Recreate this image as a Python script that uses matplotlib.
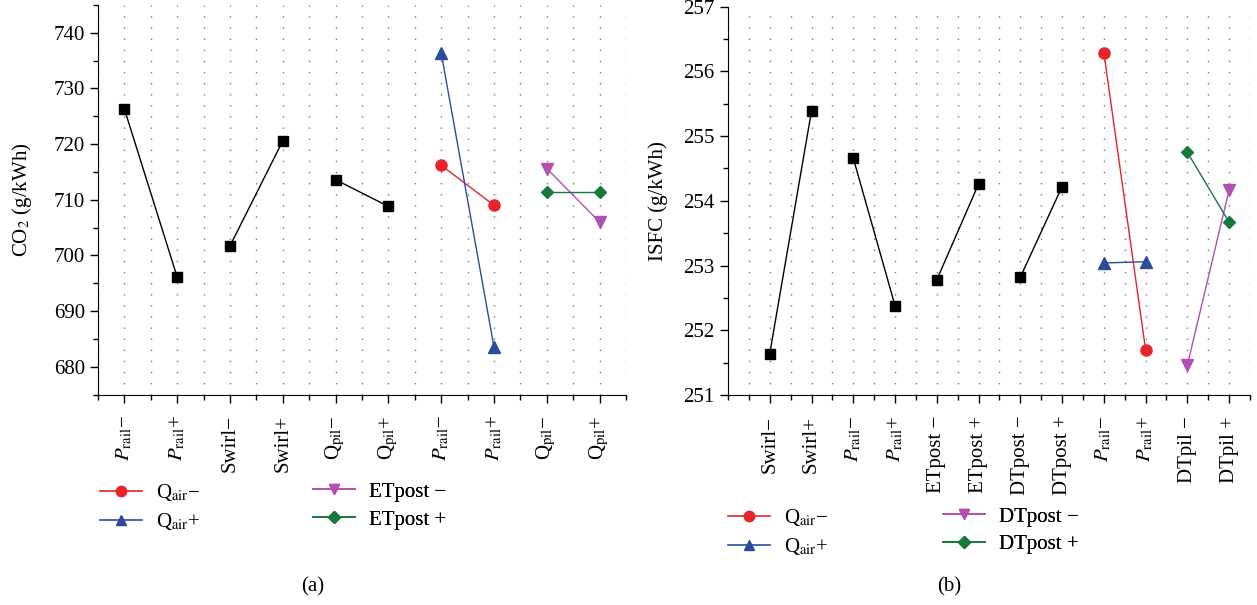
import matplotlib
matplotlib.use("Agg")
import matplotlib.pyplot as plt
from matplotlib.ticker import MultipleLocator, FixedLocator
from matplotlib.lines import Line2D

plt.rcParams['font.family'] = ['Liberation Serif', 'DejaVu Serif']
plt.rcParams['mathtext.fontset'] = 'stix'
plt.rcParams['font.size'] = 15

# ---------------- data: panel (a) CO2 ----------------
a_labels = [r"$P_{\mathrm{rail}}$−", r"$P_{\mathrm{rail}}$+", "Swirl−", "Swirl+",
            r"Q$_{\mathrm{pil}}$−", r"Q$_{\mathrm{pil}}$+", r"$P_{\mathrm{rail}}$−",
            r"$P_{\mathrm{rail}}$+", r"Q$_{\mathrm{pil}}$−", r"Q$_{\mathrm{pil}}$+"]
a_black_x = [[1, 2], [3, 4], [5, 6]]
a_black_y = [[726.3, 696.1], [701.7, 720.6], [713.6, 708.8]]
a_qair_minus = [716.2, 709.0]   # at x 7, 8
a_qair_plus = [736.4, 683.5]    # at x 7, 8
a_et_minus = [715.6, 706.0]     # at x 9, 10
a_et_plus = [711.4, 711.4]      # at x 9, 10

# ---------------- data: panel (b) ISFC ----------------
b_labels = ["Swirl−", "Swirl+", r"$P_{\mathrm{rail}}$−", r"$P_{\mathrm{rail}}$+",
            "ETpost −", "ETpost +", "DTpost −", "DTpost +",
            r"$P_{\mathrm{rail}}$−", r"$P_{\mathrm{rail}}$+", "DTpil −", "DTpil +"]
b_black_x = [[1, 2], [3, 4], [5, 6], [7, 8]]
b_black_y = [[251.64, 255.39], [254.66, 252.38], [252.78, 254.26], [252.82, 254.22]]
b_qair_minus = [256.29, 251.70]  # at x 9, 10
b_qair_plus = [253.04, 253.06]   # at x 9, 10
b_dt_minus = [251.46, 254.17]    # at x 11, 12
b_dt_plus = [254.75, 253.67]     # at x 11, 12

RED = '#e8232b'
BLUE = '#2c4b9e'
MAG = '#b24fb0'
GREEN = '#16793a'

W, H = 1257, 605
fig = plt.figure(figsize=(W / 100, H / 100), dpi=100)


def px_ax(l, r, t, b):
    return fig.add_axes([l / W, 1 - b / H, (r - l) / W, (b - t) / H])


def style(ax, xlim, ylim, ymaj, ymin, labels):
    ax.set_xlim(*xlim)
    ax.set_ylim(*ylim)
    ax.spines['top'].set_visible(False)
    ax.spines['right'].set_visible(False)
    ax.xaxis.set_major_locator(FixedLocator(range(1, len(labels) + 1)))
    ax.set_xticklabels(labels, rotation=90, va='top', ha='center')
    ax.xaxis.set_minor_locator(MultipleLocator(0.5))
    ax.yaxis.set_major_locator(MultipleLocator(ymaj))
    ax.yaxis.set_minor_locator(MultipleLocator(ymin))
    ax.tick_params(which='major', direction='out', length=6, width=1)
    ax.tick_params(which='minor', direction='out', length=3.5, width=1)
    ax.tick_params(axis='x', pad=9)
    ax.grid(True, axis='x', which='both', color='#777777', linestyle=(0, (1, 7)), linewidth=1)
    ax.set_axisbelow(True)


def leg_col(ax, handles, labels, xpx, ypx):
    leg = ax.legend(handles, labels, loc='upper left', bbox_to_anchor=(xpx / W, 1 - ypx / H),
                    bbox_transform=fig.transFigure, frameon=False, borderpad=0,
                    borderaxespad=0, handlelength=2.0, handletextpad=0.7,
                    labelspacing=0.4, fontsize=15)
    ax.add_artist(leg)


def h(color, marker, ms=7.5):
    return Line2D([], [], color=color, marker=marker, markersize=ms, linewidth=1.2)


# ---------------- panel (a) ----------------
ax1 = px_ax(98, 626, 5, 394.5)
for xs, ys in zip(a_black_x, a_black_y):
    ax1.plot(xs, ys, color='black', marker='s', markersize=7.5, linewidth=1)
ax1.plot([7, 8], a_qair_minus, color=RED, marker='o', markersize=8, linewidth=1)
ax1.plot([7, 8], a_qair_plus, color=BLUE, marker='^', markersize=8.5, linewidth=1)
ax1.plot([9, 10], a_et_minus, color=MAG, marker='v', markersize=8.5, linewidth=1)
ax1.plot([9, 10], a_et_plus, color=GREEN, marker='D', markersize=6.5, linewidth=1)
style(ax1, (0.5, 10.5), (675, 745), 10, 5, a_labels)
ax1.set_ylabel(r"CO$_2$ (g/kWh)", fontsize=15)
ax1.yaxis.set_label_coords(-0.122, 0.5)
leg_col(ax1, [h(RED, 'o'), h(BLUE, '^')], [r"Q$_{\mathrm{air}}$−", r"Q$_{\mathrm{air}}$+"], 100, 482)
leg_col(ax1, [h(MAG, 'v'), h(GREEN, 'D', 6.5)], ["ETpost −", "ETpost +"], 313, 482)

# ---------------- panel (b) ----------------
ax2 = px_ax(728, 1250, 6.7, 395)
for xs, ys in zip(b_black_x, b_black_y):
    ax2.plot(xs, ys, color='black', marker='s', markersize=7.5, linewidth=1)
ax2.plot([9, 10], b_qair_minus, color=RED, marker='o', markersize=8, linewidth=1)
ax2.plot([9, 10], b_qair_plus, color=BLUE, marker='^', markersize=8.5, linewidth=1)
ax2.plot([11, 12], b_dt_minus, color=MAG, marker='v', markersize=8.5, linewidth=1)
ax2.plot([11, 12], b_dt_plus, color=GREEN, marker='D', markersize=6.5, linewidth=1)
style(ax2, (0, 12.5), (251, 257), 1, 0.5, b_labels)
ax2.set_ylabel("ISFC (g/kWh)", fontsize=15)
ax2.yaxis.set_label_coords(-0.115, 0.5)
leg_col(ax2, [h(RED, 'o'), h(BLUE, '^')], [r"Q$_{\mathrm{air}}$−", r"Q$_{\mathrm{air}}$+"], 728, 507)
leg_col(ax2, [h(MAG, 'v'), h(GREEN, 'D', 6.5)], ["DTpost −", "DTpost +"], 943, 507)

fig.text(313 / W, 1 - 587 / H, "(a)", ha='center', va='center', fontsize=15)
fig.text(949 / W, 1 - 587 / H, "(b)", ha='center', va='center', fontsize=15)

fig.savefig("out.png", dpi=100)
